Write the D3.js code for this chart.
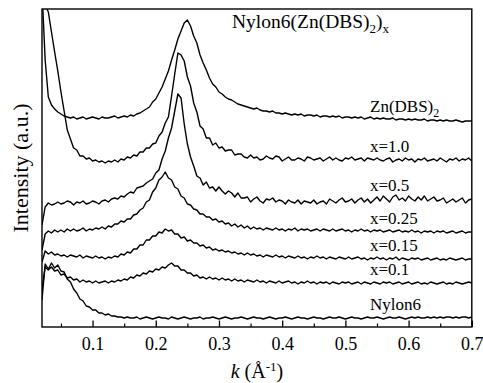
<!DOCTYPE html>
<html>
<head>
<meta charset="utf-8">
<script src="https://cdn.jsdelivr.net/npm/d3@7/dist/d3.min.js"></script>
<style>
  body { margin: 0; background: #fff; }
  svg text { font-family: "Liberation Serif", "Times New Roman", serif; fill: #000; }
</style>
</head>
<body>
<svg id="chart" width="483" height="383"></svg>
<script>
// k grid: 0.02 .. 0.70 in steps of 0.005 (137 points per curve)
const kStart = 0.02;
const kStep = 0.005;

// intensities (a.u.)
const znDBS2 = [
  337, 267, 230, 222, 218, 215, 213, 211, 210, 209,
  210, 208, 209, 210, 208, 209, 210, 209, 208, 210,
  209, 209, 210, 211, 209, 210, 211, 210, 212, 211,
  213, 214, 216, 218, 220, 225, 228, 234, 240, 248,
  256, 267, 277, 288, 296, 304, 307, 301, 291, 284,
  272, 264, 257, 249, 243, 240, 235, 233, 230, 228,
  227, 225, 223, 222, 221, 220, 219, 218, 219, 217,
  216, 216, 215, 216, 214, 214, 213, 214, 213, 212,
  213, 212, 213, 211, 212, 212, 211, 212, 210, 211,
  211, 210, 211, 210, 211, 209, 210, 210, 209, 210,
  209, 210, 208, 209, 210, 208, 209, 208, 209, 208,
  208, 209, 207, 208, 208, 207, 208, 207, 208, 207,
  207, 208, 206, 207, 207, 206, 207, 206, 207, 206,
  206, 207, 206, 205, 206, 206, 206
];
const x10 = [
  367, 322, 315, 295, 275, 256, 235, 216, 197, 188,
  179, 177, 171, 171, 168, 169, 166, 167, 165, 166,
  164, 166, 165, 167, 165, 168, 167, 170, 169, 172,
  171, 175, 175, 179, 179, 183, 184, 191, 195, 204,
  210, 231, 253, 274, 272, 266, 250, 241, 224, 215,
  201, 198, 189, 189, 182, 184, 179, 180, 176, 177,
  177, 172, 173, 173, 170, 169, 172, 169, 170, 167,
  168, 171, 169, 168, 171, 170, 166, 168, 170, 167,
  167, 169, 168, 166, 170, 169, 167, 168, 169, 166,
  168, 170, 167, 169, 167, 166, 169, 168, 170, 167,
  168, 169, 166, 169, 168, 167, 169, 167, 166, 168,
  169, 165, 167, 168, 166, 169, 167, 168, 165, 168,
  167, 169, 166, 167, 168, 166, 169, 167, 165, 168,
  167, 169, 166, 168, 167, 169, 166
];
const x05 = [
  102, 120, 124, 122, 123, 125, 123, 124, 126, 125,
  122, 125, 124, 126, 123, 124, 126, 125, 123, 126,
  127, 125, 128, 129, 128, 131, 130, 133, 135, 134,
  139, 140, 141, 144, 146, 148, 154, 157, 168, 176,
  189, 199, 216, 233, 229, 203, 183, 170, 161, 151,
  149, 142, 145, 139, 140, 136, 140, 136, 133, 136,
  134, 130, 134, 129, 129, 130, 125, 128, 130, 126,
  124, 128, 127, 129, 125, 127, 126, 123, 127, 125,
  124, 127, 123, 126, 125, 124, 127, 123, 125, 126,
  123, 128, 126, 124, 127, 129, 125, 126, 128, 124,
  127, 129, 125, 128, 124, 127, 130, 126, 131, 128,
  125, 130, 132, 127, 129, 126, 131, 128, 126, 130,
  127, 131, 126, 128, 130, 126, 127, 129, 124, 126,
  128, 125, 127, 129, 124, 127, 128
];
const x025 = [
  77, 93, 96, 94, 97, 95, 97, 95, 98, 96,
  98, 96, 97, 99, 96, 98, 97, 99, 98, 100,
  98, 101, 100, 103, 103, 106, 105, 108, 108, 112,
  113, 117, 119, 125, 127, 135, 139, 147, 150, 155,
  149, 147, 140, 138, 131, 129, 123, 122, 118, 117,
  113, 113, 110, 110, 107, 108, 105, 106, 103, 104,
  101, 103, 100, 102, 99, 101, 98, 100, 98, 99,
  97, 99, 98, 97, 99, 97, 98, 96, 98, 97,
  99, 96, 98, 97, 98, 96, 97, 98, 96, 98,
  97, 96, 98, 96, 97, 98, 96, 97, 95, 97,
  96, 98, 96, 97, 95, 97, 96, 97, 95, 96,
  97, 95, 96, 97, 95, 96, 95, 97, 95, 96,
  94, 96, 95, 96, 94, 96, 95, 96, 94, 95,
  96, 94, 95, 96, 94, 95, 95
];
const x015 = [
  65, 76, 73, 75, 72, 73, 71, 72, 70, 72,
  71, 70, 72, 69, 71, 70, 69, 71, 69, 70,
  68, 70, 69, 71, 70, 73, 72, 75, 74, 78,
  78, 82, 82, 87, 87, 91, 91, 95, 94, 98,
  96, 97, 93, 93, 89, 90, 86, 87, 84, 84,
  81, 82, 79, 80, 77, 78, 76, 77, 75, 76,
  74, 75, 73, 74, 72, 74, 72, 73, 71, 72,
  70, 72, 71, 70, 72, 70, 71, 69, 71, 70,
  69, 71, 69, 70, 68, 70, 69, 71, 69, 70,
  68, 70, 69, 68, 70, 69, 68, 70, 68, 69,
  70, 68, 69, 67, 69, 68, 70, 68, 69, 67,
  69, 68, 70, 67, 69, 68, 67, 69, 68, 69,
  67, 68, 69, 67, 68, 69, 67, 68, 67, 69,
  68, 67, 68, 69, 67, 68, 68
];
const x01 = [
  37, 60, 57, 60, 56, 57, 52, 53, 49, 50,
  47, 48, 45, 47, 45, 46, 44, 46, 44, 45,
  46, 44, 46, 45, 47, 46, 48, 47, 50, 49,
  52, 51, 54, 53, 56, 55, 58, 57, 60, 59,
  62, 64, 61, 61, 57, 57, 54, 54, 51, 52,
  49, 50, 48, 50, 48, 49, 47, 49, 47, 48,
  46, 48, 46, 47, 45, 47, 46, 45, 47, 45,
  46, 44, 46, 45, 44, 46, 44, 45, 46, 44,
  45, 43, 45, 44, 46, 44, 45, 43, 45, 44,
  45, 43, 45, 44, 43, 45, 44, 45, 43, 44,
  45, 43, 45, 44, 43, 45, 44, 43, 45, 44,
  45, 43, 44, 45, 43, 44, 45, 43, 44, 45,
  43, 44, 43, 45, 44, 43, 44, 45, 43, 44,
  43, 45, 44, 43, 44, 45, 44
];
const nylon6 = [
  27, 63, 58, 64, 59, 62, 56, 55, 48, 45,
  38, 34, 28, 26, 21, 20, 17, 17, 14, 14,
  12, 13, 11, 11, 10, 10, 9, 10, 9, 9,
  10, 8, 9, 10, 9, 8, 9, 10, 9, 9,
  8, 10, 9, 8, 9, 10, 9, 8, 9, 9,
  10, 8, 9, 9, 10, 9, 8, 9, 10, 9,
  8, 9, 9, 10, 9, 8, 9, 10, 9, 9,
  8, 9, 10, 9, 8, 9, 9, 10, 9, 8,
  9, 10, 9, 9, 8, 9, 10, 9, 9, 8,
  9, 10, 9, 9, 10, 9, 8, 9, 10, 9,
  9, 8, 9, 10, 9, 9, 10, 9, 8, 9,
  10, 9, 9, 10, 9, 8, 9, 10, 9, 10,
  9, 9, 10, 9, 10, 9, 10, 9, 10, 10,
  9, 10, 9, 10, 10, 9, 10
];

// curve labels: [text, subscript]
const seriesLabels = [
  ['Zn(DBS)', '2'], ['x=1.0', ''], ['x=0.5', ''], ['x=0.25', ''],
  ['x=0.15', ''], ['x=0.1', ''], ['Nylon6', '']
];
const seriesValues = [znDBS2, x10, x05, x025, x015, x01, nylon6];

const majorTicks = [0.1, 0.2, 0.3, 0.4, 0.5, 0.6, 0.7];
const tickLabels = ['0.1', '0.2', '0.3', '0.4', '0.5', '0.6', '0.7'];
const minorTicks = [0.05, 0.15, 0.25, 0.35, 0.45, 0.55, 0.65];

const serif = '"Liberation Serif", "Times New Roman", serif';
const svg = d3.select('#chart').style('font-family', serif);
const plot = { left: 42, top: 9, right: 471.8, bottom: 327 };

const x = d3.scaleLinear().domain([0.02, 0.70]).range([plot.left, plot.right]);
const y = d3.scaleLinear().domain([0, 318]).range([plot.bottom, plot.top]);

svg.append('defs').append('clipPath').attr('id', 'plotClip')
  .append('rect')
  .attr('x', plot.left).attr('y', plot.top)
  .attr('width', plot.right - plot.left).attr('height', plot.bottom - plot.top);

const line = d3.line()
  .x((d, i) => x(kStart + i * kStep))
  .y(d => y(d));

// curves
const curves = svg.append('g').attr('clip-path', 'url(#plotClip)');
seriesValues.forEach(vals => {
  curves.append('path')
    .datum(vals)
    .attr('d', line)
    .attr('fill', 'none')
    .attr('stroke', '#000')
    .attr('stroke-width', 1.4)
    .attr('stroke-linejoin', 'round');
});

// frame
svg.append('rect')
  .attr('x', plot.left).attr('y', plot.top)
  .attr('width', plot.right - plot.left).attr('height', plot.bottom - plot.top)
  .attr('fill', 'none').attr('stroke', '#000').attr('stroke-width', 1.4);

// bottom axis, ticks pointing inward
svg.append('g').attr('transform', `translate(0,${plot.bottom})`)
  .call(d3.axisBottom(x)
    .tickValues(majorTicks)
    .tickSize(-6.5)
    .tickPadding(10)
    .tickFormat((d, i) => tickLabels[i]))
  .call(g => {
    g.attr('font-family', null);
    g.select('.domain').remove();
    g.selectAll('.tick line').attr('stroke', '#000').attr('stroke-width', 1.3);
    g.selectAll('.tick text')
      .style('font-family', serif)
      .style('font-size', '18px')
      .attr('fill', '#000');
  });

svg.append('g').attr('transform', `translate(0,${plot.bottom})`)
  .call(d3.axisBottom(x).tickValues(minorTicks).tickSize(-3.5).tickFormat(''))
  .call(g => {
    g.select('.domain').remove();
    g.selectAll('.tick line').attr('stroke', '#000').attr('stroke-width', 1.2);
  });

// curve labels, placed just above each curve's tail
seriesLabels.forEach((lab, i) => {
  const tail = d3.mean(seriesValues[i].slice(-30));
  const t = svg.append('text')
    .attr('x', 370)
    .attr('y', y(tail) - 8)
    .style('font-family', serif)
    .style('font-size', '17px');
  t.append('tspan').text(lab[0]);
  if (lab[1]) {
    t.append('tspan').attr('dy', 5).style('font-size', '12px').text(lab[1]);
  }
});

// title
const title = svg.append('text')
  .attr('x', 232).attr('y', 28)
  .style('font-family', serif)
  .style('font-size', '19.5px');
title.append('tspan').text('Nylon6(Zn(DBS)');
title.append('tspan').attr('dy', 5).style('font-size', '13px').text('2');
title.append('tspan').attr('dy', -5).text(')');
title.append('tspan').attr('dy', 5).style('font-size', '13px').text('x');

// axis titles
const xl = svg.append('text')
  .attr('x', (plot.left + plot.right) / 2).attr('y', 378)
  .attr('text-anchor', 'middle')
  .style('font-family', serif)
  .style('font-size', '20px');
xl.append('tspan').style('font-style', 'italic').text('k');
xl.append('tspan').text(' (Å');
xl.append('tspan').attr('dy', -7).style('font-size', '13px').text('-1');
xl.append('tspan').attr('dy', 7).text(')');

svg.append('text')
  .attr('transform', `translate(28,${(plot.top + plot.bottom) / 2}) rotate(-90)`)
  .attr('text-anchor', 'middle')
  .style('font-family', serif)
  .style('font-size', '22px')
  .text('Intensity (a.u.)');
</script>
</body>
</html>
